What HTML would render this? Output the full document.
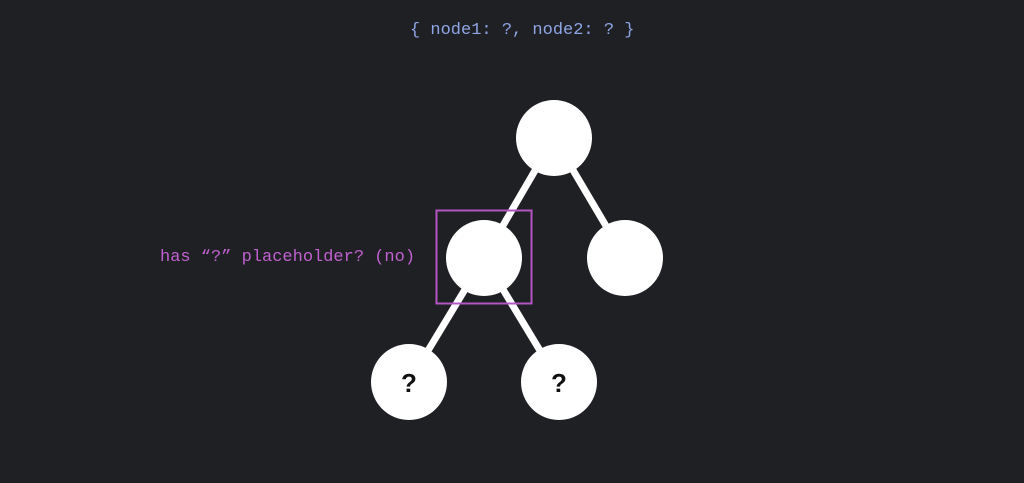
<!DOCTYPE html>
<html><head><style>
html,body{margin:0;padding:0;background:#1f2024;width:1024px;height:483px;overflow:hidden}
</style></head><body>
<svg width="1024" height="483" xmlns="http://www.w3.org/2000/svg" style="display:block">
<rect width="1024" height="483" fill="#1f2024"/>
<text x="410" y="34" font-family="Liberation Mono, monospace" font-size="17" fill="#8fa6e6">{ node1: ?, node2: ? }</text>
<text x="160" y="261" font-family="Liberation Mono, monospace" font-size="17" fill="#c160d0">has “?” placeholder? (no)</text>
<g stroke="#fff" stroke-width="7">
<line x1="554" y1="138" x2="484" y2="258"/>
<line x1="554" y1="138" x2="625" y2="258"/>
<line x1="484" y1="258" x2="409" y2="382"/>
<line x1="484" y1="258" x2="559" y2="382"/>
</g>
<g fill="#fff">
<circle cx="554" cy="138" r="38"/>
<circle cx="484" cy="258" r="38"/>
<circle cx="625" cy="258" r="38"/>
<circle cx="409" cy="382" r="38"/>
<circle cx="559" cy="382" r="38"/>
</g>
<rect x="436.5" y="210.5" width="95" height="93" fill="none" stroke="#b455c4" stroke-width="2"/>
<text x="409" y="392" text-anchor="middle" font-family="Liberation Sans, sans-serif" font-weight="bold" font-size="26" fill="#111">?</text>
<text x="559" y="392" text-anchor="middle" font-family="Liberation Sans, sans-serif" font-weight="bold" font-size="26" fill="#111">?</text>
</svg>
</body></html>
